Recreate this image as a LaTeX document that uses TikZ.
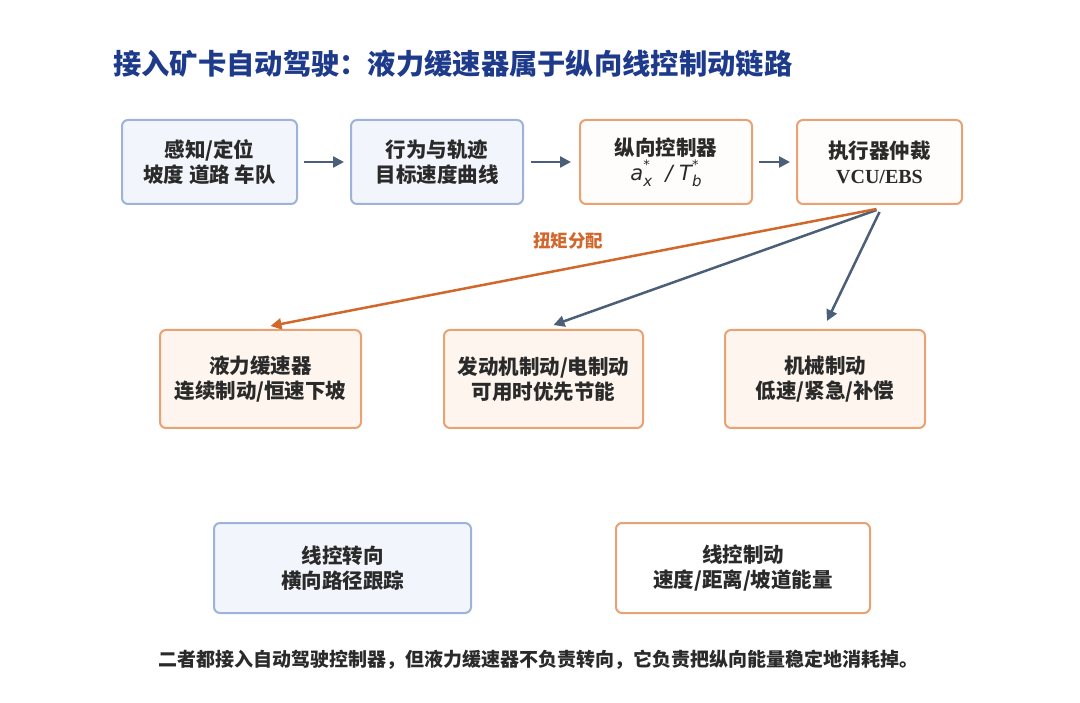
\documentclass[tikz,border=0pt]{standalone}
\usepackage{fontspec}
\setmainfont{Liberation Serif}
\newfontfamily\cjk{Noto Sans CJK SC}
\newfontfamily\latsans{DejaVu Sans}
\usetikzlibrary{arrows.meta,calc}
\definecolor{bluefill}{HTML}{F2F6FC}
\definecolor{blueline}{HTML}{9DB3D9}
\definecolor{orfill}{HTML}{FEF6EE}
\definecolor{orwhite}{HTML}{FFFDFB}
\definecolor{orline}{HTML}{E8A274}
\definecolor{slate}{HTML}{4C5F78}
\definecolor{orarrow}{HTML}{D2672B}
\definecolor{titleblue}{HTML}{1E3A8A}
\definecolor{txt}{HTML}{2A2A2A}
\newcommand\supsub[2]{\rlap{\raisebox{0.5em}{\fontsize{13}{13}\selectfont #1}}\raisebox{-0.3em}{\fontsize{15}{15}\selectfont #2}}
\tikzset{
  boxbase/.style={rounded corners=6pt, line width=2pt, align=center, text=txt,
    font=\fontsize{20.5}{25}\selectfont\cjk\bfseries, inner sep=0pt},
  bluebox/.style={boxbase, draw=blueline, fill=bluefill},
  orbox/.style={boxbase, draw=orline, fill=orwhite},
  orfbox/.style={boxbase, draw=orline, fill=orfill},
  flow/.style={draw=slate, line width=2.5pt, -{Triangle[length=11pt,width=11pt]}},
  oflow/.style={draw=orarrow, line width=2.5pt, -{Triangle[length=11pt,width=11pt]}},
}
\begin{document}
\begin{tikzpicture}[x=1pt,y=-1pt]
\useasboundingbox (0,0) rectangle (1080,703);
\fill[white] (0,0) rectangle (1080,703);
\node[anchor=west, text=titleblue, font=\fontsize{28.3}{32}\selectfont\cjk\bfseries, inner sep=0pt] (title) at (113,64) {接入矿卡自动驾驶：液力缓速器属于纵向线控制动链路};

\node[bluebox, minimum width=175pt, minimum height=84pt] (b1) at (209.5,162) {感知/定位\\坡度 道路 车队};
\node[bluebox, minimum width=172pt, minimum height=84pt] (b2) at (437,162) {行为与轨迹\\目标速度曲线};
\node[orbox, minimum width=172pt, minimum height=84pt] (b3) at (666,162) {纵向控制器\\{\fontsize{21}{25}\selectfont\latsans\mdseries\itshape a\supsub{*}{x}\ \ /\ T\supsub{*}{b}}};
\node[orbox, minimum width=165pt, minimum height=84pt] (b4) at (879.5,162) {执行器仲裁\\{\rmfamily\bfseries\fontsize{20}{25}\selectfont VCU/EBS}};

\draw[flow] (b1.east)++(6,0) -- ($(b2.west)+(-6,0)$);
\draw[flow] (b2.east)++(7,0) -- ($(b3.west)+(-8,0)$);
\draw[flow] (b3.east)++(6,0) -- ($(b4.west)+(-6,0)$);

\node[orfbox, minimum width=201pt, minimum height=98pt] (b5) at (260.5,379) {液力缓速器\\连续制动/恒速下坡};
\node[orfbox, minimum width=199pt, minimum height=98pt] (b6) at (543.5,379) {发动机制动/电制动\\可用时优先节能};
\node[orfbox, minimum width=200pt, minimum height=98pt] (b7) at (825,379) {机械制动\\低速/紧急/补偿};

\coordinate (s1) at ($(b4.south)+(-3,4)$);
\coordinate (s2) at ($(b4.south)+(-3,5)$);
\coordinate (s3) at ($(b4.south)+(0,7)$);
\draw[flow] (s2) -- ($(b6.north)+(10,-4)$);
\draw[flow] (s3) -- ($(b7.north)+(2,-8)$);
\draw[oflow] (s1) -- ($(b5.north)+(10,-3)$);
\node[text=orarrow, font=\fontsize{17.5}{20}\selectfont\cjk\bfseries, inner sep=0pt] (lab) at (568,241) {扭矩分配};

\node[bluebox, minimum width=257pt, minimum height=90pt] (b8) at (342.5,568) {线控转向\\横向路径跟踪};
\node[orbox, fill=white, minimum width=254pt, minimum height=90pt] (b9) at (743,568) {线控制动\\速度/距离/坡道能量};

\node[text=txt, font=\fontsize{19}{22}\selectfont\cjk\bfseries, inner sep=0pt] (cap) at (538.5,660) {二者都接入自动驾驶控制器，但液力缓速器不负责转向，它负责把纵向能量稳定地消耗掉。};
\end{tikzpicture}
\end{document}
